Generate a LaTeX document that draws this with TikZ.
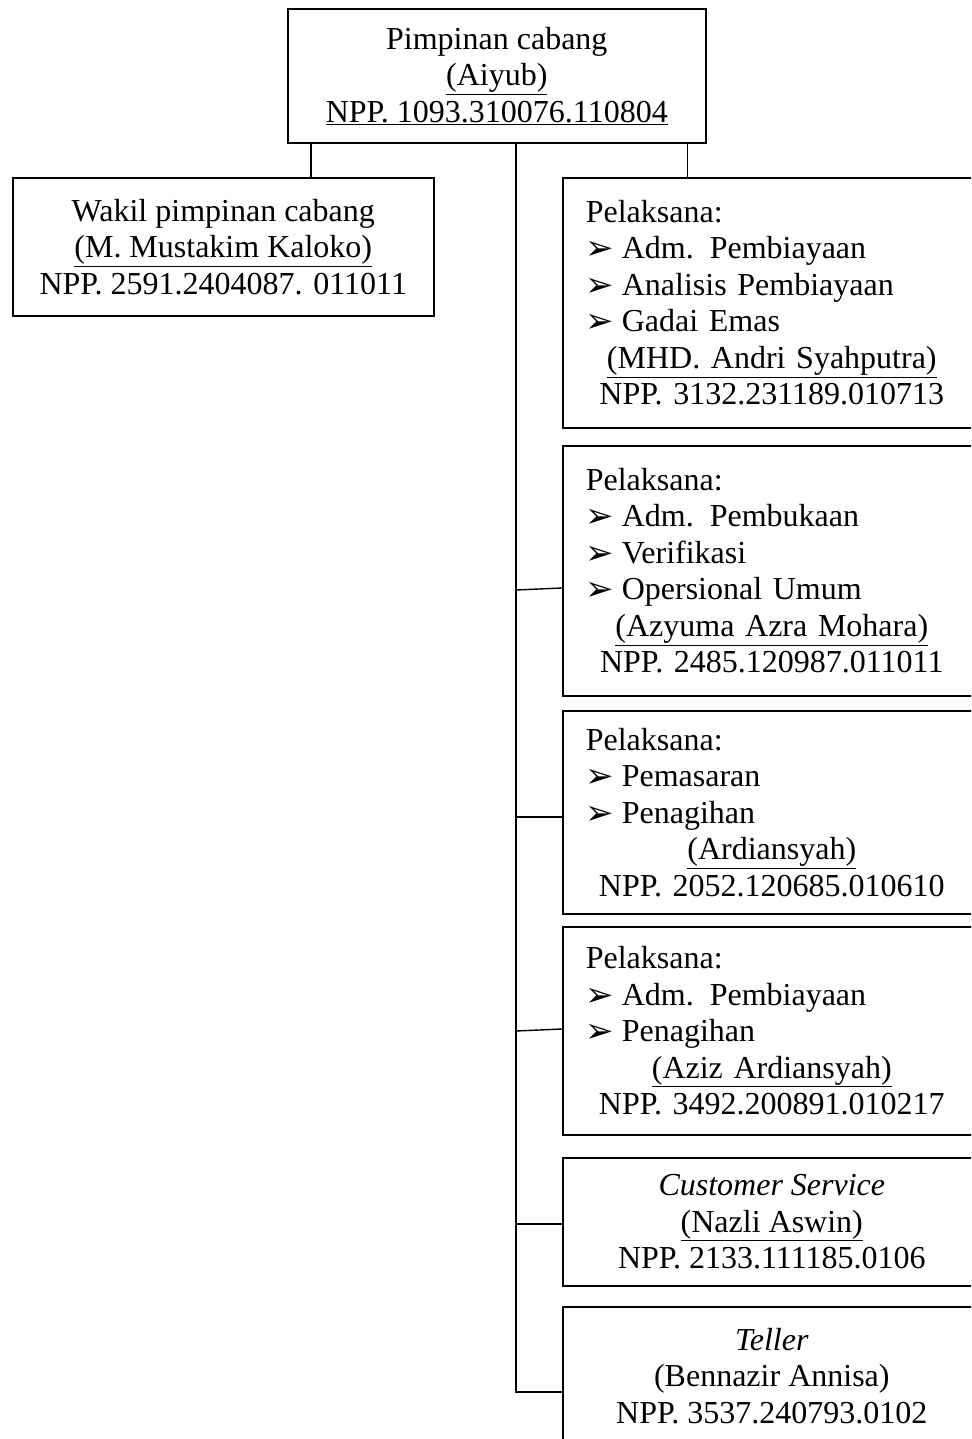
\documentclass[tikz,border=0pt]{standalone}
\usepackage{fontspec}
\setmainfont{Liberation Serif}
\newfontfamily\dingfont{DejaVu Sans}
\usetikzlibrary{calc}

\newcommand{\bul}{\makebox[36pt][l]{\raisebox{-1pt}{\dingfont\fontsize{34}{34}\selectfont ➢}}}
\newcommand{\ctr}[1]{\makebox[\hsize][c]{#1}}

\begin{document}
\begin{tikzpicture}[
    x=1pt, y=-1pt,
    font=\fontsize{32}{36.5}\selectfont,
    box/.style={draw, line width=1.6pt, anchor=north west, minimum width=418pt, inner sep=0pt, align=center},
    pelbox/.style={box, align=left, text width=372pt, inner xsep=23pt},
    link/.style={line width=1.4pt},
]
\useasboundingbox (0,0) rectangle (971,1439);
\clip (0,0) rectangle (971,1439);

\node[box, minimum height=134pt] (pc) at (287,8) {Pimpinan cabang\\\underline{(Aiyub)}\\\underline{NPP. 1093.310076.110804}};
\node[box, minimum width=421pt, minimum height=138pt] (wakil) at (12,177) {Wakil pimpinan cabang\\\underline{(M. Mustakim Kaloko)}\\NPP. 2591.2404087. 011011};

\node[pelbox, minimum height=250pt] (pel1) at (562,177) {Pelaksana:\\\bul Adm. Pembiayaan\\\bul Analisis Pembiayaan\\\bul Gadai Emas\\\ctr{\underline{(MHD. Andri Syahputra)}}\\\ctr{NPP. 3132.231189.010713}};
\node[pelbox, minimum height=250pt] (pel2) at (562,445) {Pelaksana:\\\bul Adm. Pembukaan\\\bul Verifikasi\\\bul Opersional Umum\\\ctr{\underline{(Azyuma Azra Mohara)}}\\\ctr{NPP. 2485.120987.011011}};
\node[pelbox, minimum height=203pt] (pel3) at (562,710) {Pelaksana:\\\bul Pemasaran\\\bul Penagihan\\\ctr{\underline{(Ardiansyah)}}\\\ctr{NPP. 2052.120685.010610}};
\node[pelbox, minimum height=208pt] (pel4) at (562,926) {Pelaksana:\\\bul Adm. Pembiayaan\\\bul Penagihan\\\ctr{\underline{(Aziz Ardiansyah)}}\\\ctr{NPP. 3492.200891.010217}};
\node[box, minimum height=128pt] (cs) at (562,1157) {\textit{Customer Service}\\\underline{(Nazli Aswin)}\\NPP. 2133.111185.0106};
\node[box, minimum height=138pt] (tel) at (562,1306) {\textit{Teller}\\(Bennazir Annisa)\\NPP. 3537.240793.0102};

% connectors
\draw[link] (pc.south west) ++(24,0) coordinate (lj) -- (lj |- wakil.north);
\draw[link] (pc.south east) ++(-19,0) coordinate (rj) -- (rj |- pel1.north);
\path (tel.north west) ++(0,86) coordinate (tj);
\draw[link] (pc.south) ++(19,0) coordinate (tr) -- (tr |- tj) -- (tj);
\foreach \b/\dy/\s in {pel2/143/2, pel3/107/0, pel4/103/2, cs/67/0}
  \draw[link] (\b.north west) ++(0,\dy) coordinate (j) -- ($(j -| tr)+(0,\s)$);
\end{tikzpicture}
\end{document}
